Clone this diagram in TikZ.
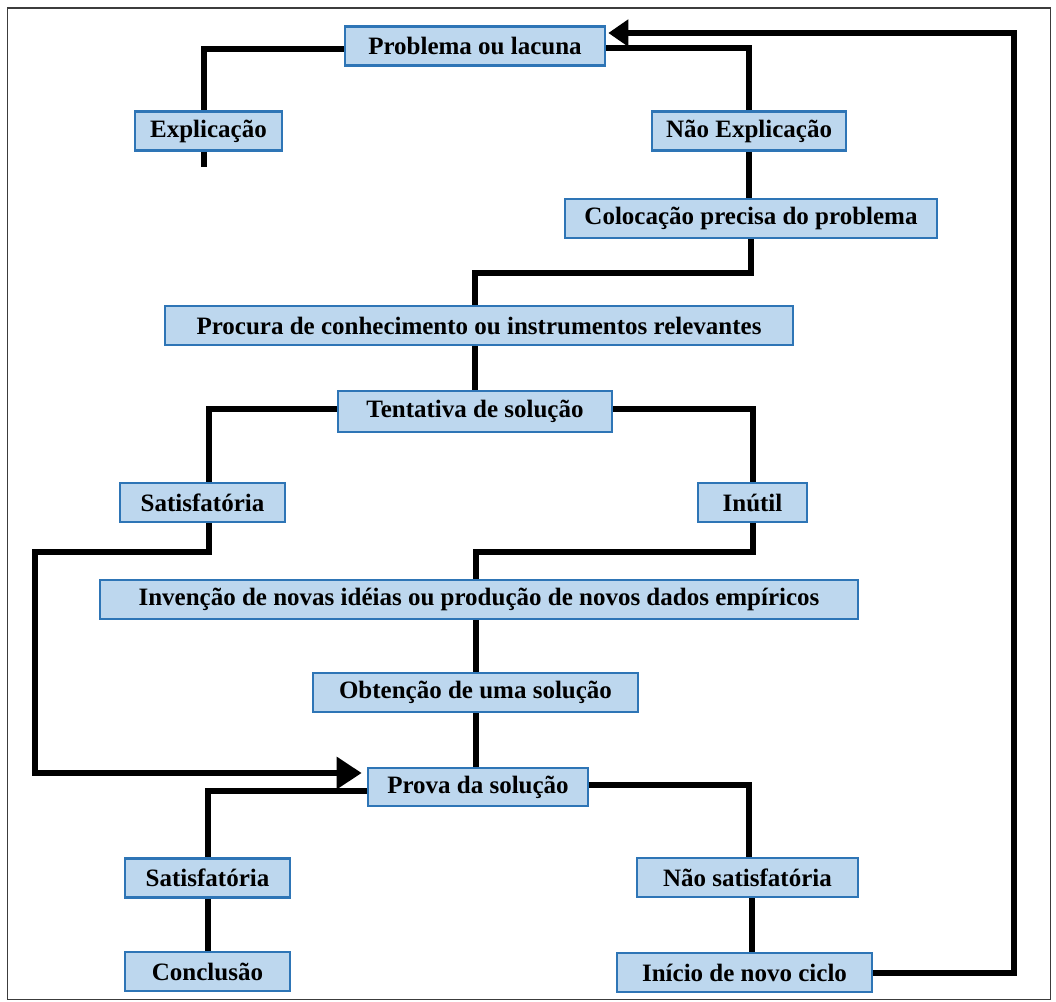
\documentclass[tikz,border=0pt]{standalone}
\usepackage{fontspec}
\setmainfont{Liberation Serif}
\usetikzlibrary{arrows.meta,calc}

\definecolor{boxfill}{RGB}{189,215,238}
\definecolor{boxline}{RGB}{46,117,182}
\definecolor{framecol}{RGB}{60,60,60}

\tikzset{
  stagebox/.style={draw=boxline, line width=2.6pt, fill=boxfill,
    inner sep=0pt, minimum height=39pt,
    font=\fontsize{25}{28}\selectfont\bfseries},
  conn/.style={line width=6pt, line join=miter, line cap=butt, black},
  bigtip/.style={-{Triangle[length=25pt,width=31pt]}},
  smalltip/.style={-{Triangle[length=20pt,width=26pt]}}
}

\begin{document}
\begin{tikzpicture}[x=1pt,y=-1pt]
\useasboundingbox (0,0) rectangle (1056,1001);
\draw[framecol, line width=1.5pt] (7.5,8) rectangle (1050.5,999.5);

% stages of the cycle
\node[stagebox, minimum width=260pt] (prob)   at (475,46)    {Problema ou lacuna};
\node[stagebox, minimum width=147pt] (expl)   at (208.5,131) {Explicação};
\node[stagebox, minimum width=194pt] (nexp)   at (749,131)   {Não Explicação};
\node[stagebox, minimum width=372pt] (coloc)  at (751,218.5) {Colocação precisa do problema};
\node[stagebox, minimum width=628pt] (proc)   at (479,325.5) {Procura de conhecimento ou instrumentos relevantes};
\node[stagebox, minimum width=274pt, minimum height=41pt] (tent) at (475,411.5) {Tentativa de solução};
\node[stagebox, minimum width=165pt] (sat1)   at (202.5,502.5) {Satisfatória};
\node[stagebox, minimum width=109pt] (inutil) at (752.5,502.5) {Inútil};
\node[stagebox, minimum width=758pt] (invenc) at (479,599.5) {Invenção de novas idéias ou produção de novos dados empíricos};
\node[stagebox, minimum width=325pt] (obt)    at (475.5,692.5) {Obtenção de uma solução};
\node[stagebox, minimum width=220pt, minimum height=38pt] (prov) at (478,787) {Prova da solução};
\node[stagebox, minimum width=165pt] (sat2)   at (207.5,878) {Satisfatória};
\node[stagebox, minimum width=221pt] (nsat)   at (747.5,877.5) {Não satisfatória};
\node[stagebox, minimum width=165pt] (conc)   at (207.5,971.5) {Conclusão};
\node[stagebox, minimum width=255pt] (inicio) at (744.5,972.5) {Início de novo ciclo};

\coordinate (explend) at (204,167);

% connectors (yshift is in page points: positive moves up)
\draw[conn] ([yshift=-3]prob.west) -| ([xshift=-4.5]expl.north);
\draw[conn] ([xshift=-4.5]expl.south) -- (explend);
\draw[conn] ([yshift=-2]prob.east) -| (nexp.north);
\draw[conn] (nexp.south) -- (nexp.south |- coloc.north);
\draw[conn] (coloc.south) -- ++(0,34) -| (tent.north |- proc.north);
\draw[conn] (proc.south -| tent.north) -- (tent.north);
\draw[conn] ([yshift=2.5]tent.west) -| ([xshift=6.5]sat1.north);
\draw[conn] ([yshift=2.5]tent.east) -| (inutil.north);
\draw[conn, bigtip] ([xshift=6.5]sat1.south) -- ++(0,29) -- ++(-174,0)
  |- ([xshift=-5,yshift=14]prov.west);
\draw[conn] ([yshift=-4]prov.west) -| ([xshift=0.5]sat2.north);
\draw[conn] (inutil.south) -- ++(0,29) -| (obt.north |- invenc.north);
\draw[conn] (invenc.south -| obt.north) -- (obt.north);
\draw[conn] (obt.south) -- (obt.south |- prov.north);
\draw[conn] ([yshift=2]prov.east) -| ([xshift=1.5]nsat.north);
\draw[conn] ([xshift=4.5]nsat.south) -- ([xshift=4.5]nsat.south |- inicio.north);
\draw[conn] ([xshift=0.5]sat2.south) -- ([xshift=0.5]sat2.south |- conc.north);
\draw[conn, smalltip] (inicio.east) -- ++(141,0) |- ([xshift=2,yshift=13]prob.east);
\end{tikzpicture}
\end{document}
